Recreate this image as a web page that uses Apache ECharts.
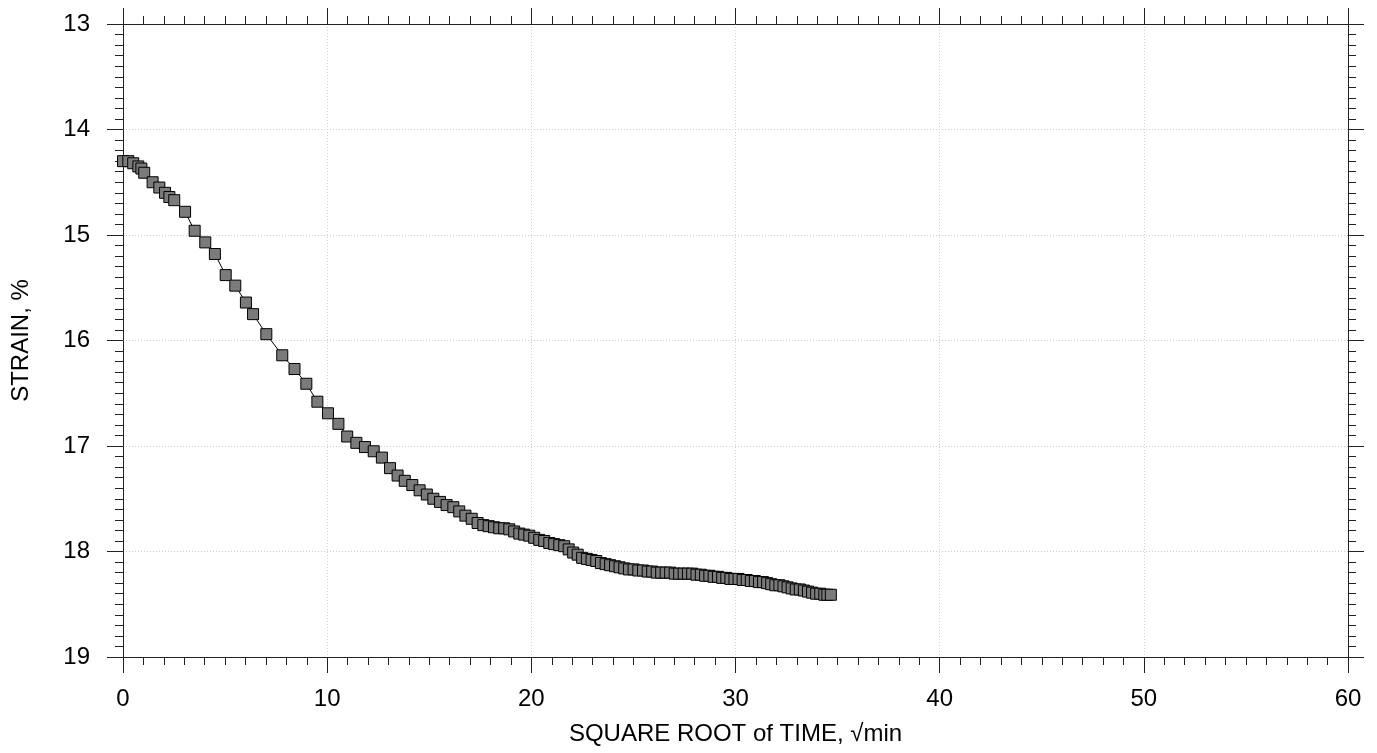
<!DOCTYPE html>
<html>
<head>
<meta charset="utf-8">
<script src="https://cdn.jsdelivr.net/npm/echarts@6/dist/echarts.min.js"></script>
<style>
html,body{margin:0;padding:0;background:#fff;}
#chart{width:1377px;height:753px;}
</style>
</head>
<body>
<div id="chart"></div>
<script>
// sqrt(time), sqrt(min)
var sqrtTime = [0, 0.26, 0.5, 0.75, 0.9, 1.04, 1.45, 1.78, 2.06, 2.27, 2.51, 3.04, 3.51, 4.03, 4.5, 5.03, 5.5, 6.02, 6.37, 7.02,
  7.8, 8.4, 8.98, 9.52, 10.04, 10.55, 10.98, 11.43, 11.85, 12.28, 12.68, 13.08, 13.45, 13.8, 14.17, 14.53, 14.88, 15.2, 15.53, 15.85,
  16.18, 16.47, 16.77, 17.08, 17.37, 17.65, 17.91, 18.17, 18.43, 18.67, 18.92, 19.16, 19.41, 19.65, 19.9, 20.14, 20.39, 20.63, 20.88, 21.12,
  21.37, 21.61, 21.83, 22.05, 22.27, 22.49, 22.72, 22.95, 23.18, 23.41, 23.64, 23.86, 24.1, 24.32, 24.55, 24.78, 25.01, 25.24, 25.47, 25.7,
  25.92, 26.14, 26.36, 26.58, 26.8, 27.02, 27.24, 27.46, 27.67, 27.88, 28.09, 28.3, 28.51, 28.72, 28.93, 29.14, 29.35, 29.55, 29.75, 29.95,
  30.15, 30.35, 30.55, 30.75, 30.95, 31.15, 31.35, 31.55, 31.75, 31.95, 32.15, 32.35, 32.55, 32.75, 32.95, 33.15, 33.35, 33.55, 33.75, 33.95,
  34.15, 34.35, 34.5, 34.67];
// strain, %
var strain = [14.30, 14.30, 14.32, 14.35, 14.37, 14.41, 14.50, 14.55, 14.60, 14.64, 14.67, 14.78, 14.96, 15.07, 15.18, 15.38, 15.48, 15.64, 15.75, 15.94,
  16.14, 16.27, 16.41, 16.58, 16.69, 16.79, 16.91, 16.97, 17.01, 17.05, 17.11, 17.21, 17.28, 17.33, 17.37, 17.42, 17.46, 17.50, 17.53, 17.56,
  17.58, 17.62, 17.66, 17.69, 17.73, 17.75, 17.76, 17.77, 17.78, 17.78, 17.79, 17.81, 17.83, 17.84, 17.85, 17.87, 17.89, 17.90, 17.92, 17.93,
  17.94, 17.95, 17.98, 18.01, 18.03, 18.06, 18.07, 18.08, 18.09, 18.11, 18.12, 18.13, 18.14, 18.15, 18.16, 18.17, 18.17, 18.18, 18.18, 18.19,
  18.19, 18.20, 18.20, 18.20, 18.20, 18.21, 18.21, 18.21, 18.21, 18.21, 18.22, 18.22, 18.23, 18.23, 18.24, 18.24, 18.25, 18.25, 18.26, 18.26,
  18.26, 18.27, 18.27, 18.28, 18.28, 18.29, 18.29, 18.30, 18.31, 18.32, 18.32, 18.33, 18.34, 18.35, 18.36, 18.36, 18.37, 18.38, 18.39, 18.40,
  18.40, 18.41, 18.41, 18.41];
var xTitle = 'SQUARE ROOT of TIME, \u221Amin';
var yTitle = 'STRAIN, %';

var chart = echarts.init(document.getElementById('chart'));
var font = 'Liberation Sans, Arial, Helvetica, sans-serif';
var axisColor = '#222';
var fs = 24;
var pts = sqrtTime.map(function (x, i) { return [x, strain[i]]; });

function xAx(pos, show) {
  return {
    type: 'value', position: pos, min: 0, max: 60, interval: 10,
    axisLine: { show: true, onZero: false, lineStyle: { color: axisColor, width: 1 } },
    axisTick: { show: true, inside: false, length: 16, lineStyle: { color: axisColor } },
    minorTick: { show: true, splitNumber: 10, length: 8, lineStyle: { color: axisColor } },
    splitLine: { show: show, lineStyle: { color: '#cfcfcf', type: [1, 2], width: 1 } },
    axisLabel: { show: show, margin: 30, fontSize: fs, color: '#000', fontFamily: font },
    name: show ? xTitle : '', nameLocation: 'middle', nameGap: 65,
    nameTextStyle: { fontSize: fs, color: '#000', fontFamily: font }
  };
}
function yAx(pos, show) {
  return {
    type: 'value', position: pos, min: 13, max: 19, interval: 1, inverse: true,
    axisLine: { show: true, onZero: false, lineStyle: { color: axisColor, width: 1 } },
    axisTick: { show: true, inside: false, length: 16, lineStyle: { color: axisColor } },
    minorTick: { show: true, splitNumber: 10, length: 8, lineStyle: { color: axisColor } },
    splitLine: { show: show, lineStyle: { color: '#cfcfcf', type: [1, 2], width: 1 } },
    axisLabel: { show: show, margin: 33, fontSize: fs, color: '#000', fontFamily: font },
    name: show ? yTitle : '', nameLocation: 'middle', nameGap: 90,
    nameTextStyle: { fontSize: fs, color: '#000', fontFamily: font }
  };
}

chart.setOption({
  animation: false,
  backgroundColor: '#fff',
  grid: { left: 123, right: 29, top: 24, bottom: 96 },
  xAxis: [xAx('bottom', true), xAx('top', false)],
  yAxis: [yAx('left', true), yAx('right', false)],
  series: [{
    type: 'line',
    xAxisIndex: 0, yAxisIndex: 0,
    data: pts,
    symbol: 'rect',
    symbolSize: 11,
    showAllSymbol: true,
    lineStyle: { color: '#000', width: 1 },
    itemStyle: { color: '#7b7b7b', borderColor: '#000', borderWidth: 1 },
    z: 3
  }]
});
</script>
</body>
</html>
